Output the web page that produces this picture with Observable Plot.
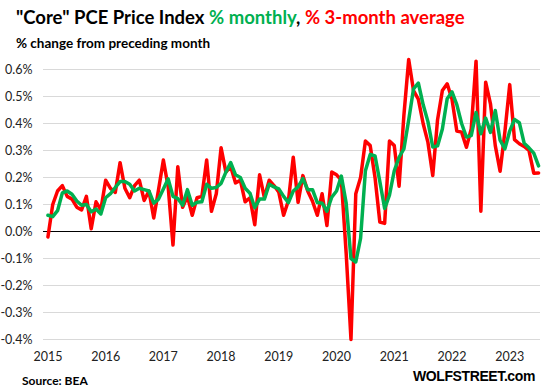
<!DOCTYPE html>
<html>
<head>
<meta charset="utf-8">
<script src="https://cdn.jsdelivr.net/npm/d3@7"></script>
<script src="https://cdn.jsdelivr.net/npm/@observablehq/plot@0.6"></script>
<style>
  body { margin: 0; background: #fff; }
  #wrap { position: relative; width: 544px; height: 392px; overflow: hidden; font-family: Lato, "Open Sans", sans-serif; }
  #title { position: absolute; left: 16px; top: 6px; font-size: 18.5px; font-weight: 700; color: #000; white-space: nowrap; }
  #subtitle { position: absolute; left: 16px; top: 35px; font-size: 13.5px; font-weight: 700; color: #000; white-space: nowrap; }
  #source { position: absolute; left: 22px; top: 373px; font-size: 12px; font-weight: 700; color: #000; }
  #brand { position: absolute; left: 413px; top: 368px; font-family: "Liberation Sans", Arial, sans-serif; font-size: 14px; font-weight: 700; letter-spacing: -0.4px; color: #000; }
  #chart { position: absolute; left: 0; top: 0; }
</style>
</head>
<body>
<div id="wrap">
  <div id="chart"></div>
  <div id="title">"Core" PCE Price Index <span style="color:#00b050">% monthly</span>, <span style="color:#ff0000">% 3-month average</span></div>
  <div id="subtitle">% change from preceding month</div>
  <div id="source">Source: BEA</div>
  <div id="brand">WOLFSTREET.com</div>
</div>
<script>
// Year labels, placed at January of each year (month index 0 = Jan 2015)
const years = ["2015", "2016", "2017", "2018", "2019", "2020", "2021", "2022", "2023"];
const yTicks = [-0.4, -0.3, -0.2, -0.1, 0, 0.1, 0.2, 0.3, 0.4, 0.5, 0.6];

// Core PCE, % change from preceding month (Jan 2015 - Jul 2023)
const monthly = [
  -0.02, 0.10, 0.15, 0.17, 0.13, 0.12, 0.09, 0.08, 0.13, 0.01, 0.11, 0.08,
  0.19, 0.16, 0.145, 0.255, 0.16, 0.125, 0.17, 0.19, 0.115, 0.15, 0.05, 0.155,
  0.265, 0.165, -0.05, 0.24, 0.09, 0.13, 0.06, 0.125, 0.13, 0.265, 0.075, 0.14,
  0.31, 0.22, 0.24, 0.18, 0.19, 0.11, 0.125, 0.025, 0.21, 0.125, 0.19, 0.17,
  0.145, 0.06, 0.115, 0.275, 0.108, 0.207, 0.15, 0.112, 0.06, 0.14, 0.022, 0.22,
  0.21, 0.19, -0.08, -0.40, 0.14, 0.20, 0.335, 0.318, 0.20, 0.035, 0.03, 0.335,
  0.318, 0.168, 0.43, 0.637, 0.522, 0.49, 0.40, 0.33, 0.207, 0.414, 0.522, 0.547,
  0.49, 0.372, 0.368, 0.312, 0.38, 0.631, 0.075, 0.553, 0.473, 0.318, 0.223, 0.37,
  0.544, 0.34, 0.325, 0.315, 0.30, 0.216, 0.217
];

// 3-month average of the monthly change
const avg3 = [
  0.06, 0.055, 0.077, 0.143, 0.15, 0.138, 0.113, 0.097, 0.10, 0.073, 0.083, 0.065,
  0.125, 0.14, 0.163, 0.185, 0.185, 0.175, 0.15, 0.16, 0.155, 0.15, 0.105, 0.12,
  0.157, 0.195, 0.13, 0.122, 0.097, 0.155, 0.097, 0.108, 0.11, 0.175, 0.16, 0.163,
  0.178, 0.22, 0.255, 0.21, 0.20, 0.16, 0.142, 0.088, 0.12, 0.12, 0.175, 0.165,
  0.158, 0.13, 0.107, 0.15, 0.165, 0.196, 0.155, 0.155, 0.107, 0.105, 0.075, 0.127,
  0.15, 0.205, 0.105, -0.10, -0.113, -0.025, 0.225, 0.285, 0.28, 0.185, 0.085, 0.135,
  0.225, 0.275, 0.306, 0.413, 0.528, 0.55, 0.47, 0.407, 0.313, 0.317, 0.38, 0.492,
  0.517, 0.47, 0.40, 0.35, 0.355, 0.441, 0.362, 0.42, 0.367, 0.448, 0.338, 0.306,
  0.372, 0.415, 0.403, 0.327, 0.31, 0.29, 0.243
];

const data = monthly.map((v, i) => ({ i, monthly: v, avg: avg3[i] }));

const chart = Plot.plot({
  width: 544,
  height: 392,
  marginTop: 69,
  marginBottom: 53,
  marginLeft: 43,
  marginRight: 4,
  style: { fontFamily: "Lato, 'Open Sans', sans-serif", fontSize: "12.5px", color: "#222", background: "transparent" },
  x: { domain: [-0.92, 102.4], label: null },
  y: { domain: [-0.4, 0.6], label: null },
  marks: [
    Plot.gridY(yTicks.filter(d => d !== 0), { stroke: "#d9d9d9", strokeOpacity: 1, strokeWidth: 1 }),
    Plot.ruleY([0], { stroke: "#000", strokeWidth: 1 }),
    Plot.line(data, { x: "i", y: "monthly", stroke: "#ff0000", strokeWidth: 3.5, strokeLinejoin: "round", strokeLinecap: "round" }),
    Plot.line(data, { x: "i", y: "avg", stroke: "#00b050", strokeWidth: 3.5, strokeLinejoin: "round", strokeLinecap: "round" }),
    Plot.axisX(years.map((_, k) => k * 12), { tickFormat: d => years[d / 12], tickSize: 0, tickPadding: 13, label: null, fill: "#222" }),
    Plot.axisY(yTicks, { tickFormat: d => d.toFixed(1) + "%", tickSize: 0, tickPadding: 11, label: null, fill: "#222" })
  ]
});
document.getElementById("chart").appendChild(chart);
</script>
</body>
</html>
